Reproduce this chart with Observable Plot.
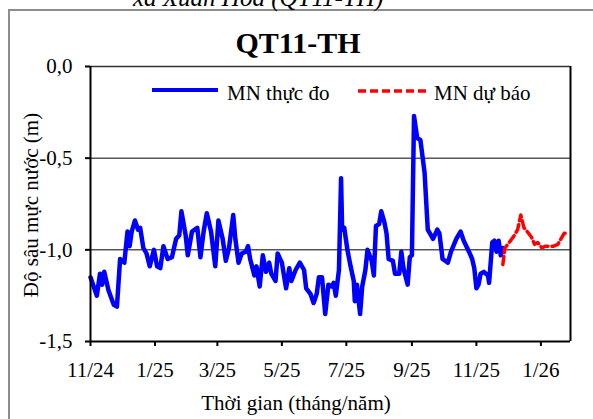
<!DOCTYPE html>
<html><head><meta charset="utf-8">
<script src="https://cdn.jsdelivr.net/npm/d3@7"></script>
<script src="https://cdn.jsdelivr.net/npm/@observablehq/plot@0.6"></script>
<style>
body{margin:0;background:#fff;}
#wrap{position:relative;width:593px;height:419px;overflow:hidden;background:#fff;font-family:"Liberation Serif","Times New Roman",serif;}
#frame{position:absolute;left:8px;top:9px;width:600px;height:430px;border-left:2px solid #8c8c8c;border-top:2px solid #8c8c8c;}
#chart{position:absolute;left:0;top:0;}
#over{position:absolute;left:0;top:0;font-family:"Liberation Serif","Times New Roman",serif;}
</style></head><body>
<div id="wrap"><div id="frame"></div><div id="chart"></div><svg id="over" width="593" height="419"></svg></div>
<script>
const caption = "xã Xuân Hòa (QT11-TH)";
const title = "QT11-TH";
const seriesNames = ["MN thực đo", "MN dự báo"];
const xTitle = "Thời gian (tháng/năm)";
const yTitle = "Độ sâu mực nước (m)";

const obsDates = ["2024-11-01","2024-11-07","2024-11-10","2024-11-12","2024-11-14","2024-11-18","2024-11-23","2024-11-26","2024-11-29","2024-12-03","2024-12-06","2024-12-08","2024-12-10","2024-12-13","2024-12-16","2024-12-18","2024-12-21","2024-12-24","2024-12-27","2024-12-31","2025-01-03","2025-01-06","2025-01-09","2025-01-13","2025-01-17","2025-01-21","2025-01-24","2025-01-26","2025-01-30","2025-02-01","2025-02-05","2025-02-10","2025-02-13","2025-02-16","2025-02-19","2025-02-23","2025-02-27","2025-03-02","2025-03-06","2025-03-09","2025-03-12","2025-03-16","2025-03-18","2025-03-21","2025-03-24","2025-03-28","2025-03-30","2025-04-01","2025-04-05","2025-04-07","2025-04-10","2025-04-13","2025-04-16","2025-04-19","2025-04-21","2025-04-25","2025-04-27","2025-05-01","2025-05-05","2025-05-08","2025-05-10","2025-05-14","2025-05-18","2025-05-22","2025-05-24","2025-05-28","2025-05-31","2025-06-03","2025-06-05","2025-06-08","2025-06-11","2025-06-14","2025-06-17","2025-06-19","2025-06-21","2025-06-24","2025-06-26","2025-06-27","2025-06-29","2025-07-02","2025-07-05","2025-07-08","2025-07-09","2025-07-11","2025-07-14","2025-07-16","2025-07-19","2025-07-21","2025-07-25","2025-07-27","2025-07-29","2025-08-01","2025-08-03","2025-08-06","2025-08-08","2025-08-10","2025-08-14","2025-08-16","2025-08-20","2025-08-22","2025-08-24","2025-08-28","2025-08-30","2025-09-01","2025-09-03","2025-09-06","2025-09-09","2025-09-13","2025-09-16","2025-09-19","2025-09-21","2025-09-25","2025-09-27","2025-09-30","2025-10-05","2025-10-08","2025-10-13","2025-10-17","2025-10-20","2025-10-25","2025-10-28","2025-10-30","2025-11-01","2025-11-03","2025-11-05","2025-11-08","2025-11-12","2025-11-13","2025-11-16","2025-11-18","2025-11-20","2025-11-22","2025-11-24","2025-11-26"];
const obsValues = [-1.15,-1.25,-1.13,-1.19,-1.12,-1.22,-1.30,-1.31,-1.05,-1.07,-0.90,-0.98,-0.90,-0.84,-0.89,-0.88,-0.99,-1.02,-1.09,-1.00,-1.09,-1.10,-0.98,-1.05,-1.04,-0.94,-0.92,-0.79,-0.92,-1.03,-0.90,-0.88,-1.04,-0.90,-0.80,-0.90,-1.09,-0.84,-0.94,-1.06,-0.99,-0.81,-0.94,-1.07,-1.02,-1.01,-0.98,-1.05,-1.14,-1.09,-1.20,-1.03,-1.12,-1.07,-1.13,-1.17,-1.02,-1.07,-1.21,-1.10,-1.17,-1.11,-1.07,-1.11,-1.21,-1.24,-1.29,-1.24,-1.15,-1.15,-1.35,-1.19,-1.20,-1.18,-1.25,-1.11,-0.61,-0.89,-0.88,-1.00,-1.09,-1.17,-1.28,-1.19,-1.35,-1.20,-1.11,-1.00,-1.06,-1.14,-0.87,-0.86,-0.79,-0.85,-0.91,-1.05,-1.06,-1.13,-1.13,-1.01,-1.10,-1.19,-1.04,-1.03,-0.27,-0.39,-0.40,-0.58,-0.89,-0.92,-0.94,-0.89,-0.91,-1.05,-1.07,-1.01,-0.94,-0.90,-0.95,-1.01,-1.05,-1.10,-1.21,-1.19,-1.13,-1.12,-1.14,-1.18,-0.96,-0.95,-1.01,-0.95,-1.03,-0.99];

const fcDates = ["2025-11-26","2025-11-28","2025-12-02","2025-12-07","2025-12-10","2025-12-13","2025-12-16","2025-12-19","2025-12-23","2025-12-26","2025-12-29","2026-01-02","2026-01-05","2026-01-09","2026-01-13","2026-01-17","2026-01-20","2026-01-23","2026-01-27"];
const fcValues = [-1.08,-0.99,-0.96,-0.92,-0.89,-0.81,-0.88,-0.90,-0.93,-0.97,-0.96,-0.99,-0.98,-0.98,-0.98,-0.97,-0.94,-0.91,-0.91];

const xTickDates = ["2024-11-01","2025-01-01","2025-03-01","2025-05-01","2025-07-01","2025-09-01","2025-11-01","2026-01-01"];
const yTickValues = [0, -0.5, -1.0, -1.5];
const gridValues = [-0.5, -1.0];
const xDomain = ["2024-11-01", "2026-01-29"];
const yDomain = [-1.5, 0];

const obs = obsDates.map((d, i) => ({date: new Date(d), value: obsValues[i]}));
const fc = fcDates.map((d, i) => ({date: new Date(d), value: fcValues[i]}));
const xd = xDomain.map(d => new Date(d));
const fmtX = d => `${d.getUTCMonth() + 1}/${String(d.getUTCFullYear()).slice(2)}`;
const fmtY = v => v.toFixed(1).replace(".", ",");

const plot = Plot.plot({
  width: 593, height: 419,
  marginLeft: 90, marginRight: 23, marginTop: 66, marginBottom: 78,
  style: {fontFamily: '"Liberation Serif","Times New Roman",serif', fontSize: "21px", color: "#000", background: "transparent", overflow: "visible"},
  x: {type: "utc", domain: xd},
  y: {domain: yDomain},
  marks: [
    Plot.ruleY(gridValues, {stroke: "#000", strokeWidth: 1}),
    Plot.ruleY([yDomain[1]], {stroke: "#333", strokeWidth: 1.5}),
    Plot.line(obs, {x: "date", y: "value", stroke: "#0000ff", strokeWidth: 4.5, strokeLinejoin: "round", strokeLinecap: "round"}),
    Plot.line(fc, {x: "date", y: "value", stroke: "#ff0000", strokeWidth: 3.5, strokeDasharray: "8,4"}),
    Plot.ruleX([xd[1]], {stroke: "#000", strokeWidth: 2}),
    Plot.ruleX([xd[0]], {stroke: "#000", strokeWidth: 2}),
    Plot.ruleY([yDomain[0]], {stroke: "#000", strokeWidth: 2}),
    Plot.axisX({ticks: xTickDates.map(d => new Date(d)), tickFormat: fmtX, tickSize: 5, tickPadding: 16, strokeWidth: 2, label: null}),
    Plot.axisY({ticks: yTickValues, tickFormat: fmtY, tickSize: 5, tickPadding: 13, strokeWidth: 2, label: null})
  ]
});
document.getElementById("chart").appendChild(plot);

const ov = d3.select("#over");
ov.append("text").attr("x", 133).attr("y", 6).attr("font-style", "italic").attr("font-size", 25).text(caption);
ov.append("text").attr("x", 298).attr("y", 53).attr("text-anchor", "middle").attr("font-weight", "bold").attr("font-size", 30).text(title);
ov.append("line").attr("x1", 152).attr("x2", 218).attr("y1", 90).attr("y2", 90).attr("stroke", "#0000ff").attr("stroke-width", 4);
ov.append("text").attr("x", 227).attr("y", 100).attr("font-size", 21).text(seriesNames[0]);
ov.append("line").attr("x1", 358).attr("x2", 427).attr("y1", 91).attr("y2", 91).attr("stroke", "#ff0000").attr("stroke-width", 3.5).attr("stroke-dasharray", "8,4");
ov.append("text").attr("x", 434).attr("y", 100).attr("font-size", 21).text(seriesNames[1]);
ov.append("text").attr("x", 296).attr("y", 410).attr("text-anchor", "middle").attr("font-size", 21).text(xTitle);
ov.append("text").attr("transform", "translate(38,205) rotate(-90)").attr("text-anchor", "middle").attr("font-size", 21).text(yTitle);
</script>
</body></html>
